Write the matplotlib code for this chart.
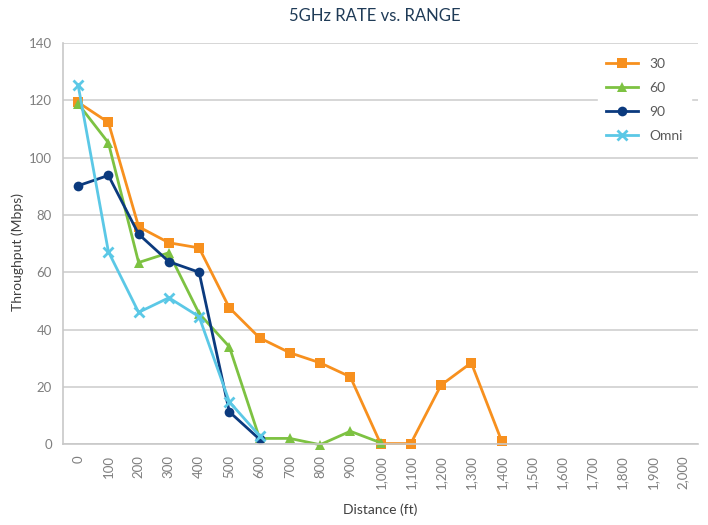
import matplotlib
matplotlib.use("Agg")
import matplotlib.pyplot as plt
import numpy as np

plt.rcParams['font.family'] = ['Lato', 'DejaVu Sans']

distances = [0, 100, 200, 300, 400, 500, 600, 700, 800, 900, 1000,
             1100, 1200, 1300, 1400, 1500, 1600, 1700, 1800, 1900, 2000]
tick_labels = [f"{d:,}" for d in distances]
nan = np.nan
s30 = [119.3, 112.3, 75.9, 70.3, 68.5, 47.6, 37.1, 31.9, 28.4, 23.5, 0.2,
       0.2, 20.6, 28.4, 1.2, nan, nan, nan, nan, nan, nan]
s60 = [118.8, 105.2, 63.4, 66.8, 45.6, 34.0, 2.0, 2.0, -0.2, 4.5, 0.5,
       nan, nan, nan, nan, nan, nan, nan, nan, nan, nan]
s90 = [90.2, 93.8, 73.3, 63.7, 60.0, 11.3, 1.7,
       nan, nan, nan, nan, nan, nan, nan, nan, nan, nan, nan, nan, nan, nan]
omni = [125.3, 67.2, 46.0, 51.1, 44.5, 14.8, 2.9,
        nan, nan, nan, nan, nan, nan, nan, nan, nan, nan, nan, nan, nan, nan]

series = [("30", s30, "#F7901E", "s", 7),
          ("60", s60, "#7DC242", "^", 7.5),
          ("90", s90, "#0B3A7E", "o", 7),
          ("Omni", omni, "#5BC8E6", "x", 7)]

fig = plt.figure(figsize=(7.08, 5.25), dpi=100)
ax = fig.add_axes([0.089, 0.154, 0.897, 0.764])

x = np.arange(len(distances))
for name, vals, col, mk, ms in series:
    kw = dict(markeredgewidth=2) if mk == "x" else dict(markeredgewidth=0)
    ax.plot(x, vals, color=col, marker=mk, markersize=ms, linewidth=2,
            label=name, clip_on=False, **kw)

ax.set_xlim(-0.5, len(distances) - 0.5)
ax.set_ylim(0, 140)
ax.set_yticks(range(0, 141, 20))
ax.set_xticks(x)
ax.set_xticklabels(tick_labels, rotation=90)
ax.tick_params(axis='both', colors='#7f7f7f', labelcolor='#7f7f7f',
               labelsize=9.5, length=0, pad=8)
ax.grid(axis='y', color='#d0d0d0', linewidth=1.2)
ax.set_axisbelow(True)
for sp in ['top', 'right']:
    ax.spines[sp].set_visible(False)
ax.spines['left'].set_color('#c8c8c8')
ax.spines['bottom'].set_color('#c8c8c8')
ax.spines['left'].set_linewidth(1.2)
ax.spines['bottom'].set_linewidth(1.2)

ax.set_xlabel("Distance (ft)", color='#404040', fontsize=10, labelpad=10)
ax.set_ylabel("Throughput (Mbps)", color='#404040', fontsize=10, labelpad=2)
ax.yaxis.set_label_coords(-0.062, 0.48)
fig.suptitle("5GHz RATE vs. RANGE", x=0.53, y=0.985, color='#1F3B57',
             fontsize=12)

leg = ax.legend(loc='upper right', bbox_to_anchor=(1.0, 1.0), frameon=True,
                facecolor='white', edgecolor='white', framealpha=1,
                fontsize=10, labelcolor='#595959', handlelength=2.3,
                borderpad=0.6, labelspacing=0.85)

fig.savefig("out.png", dpi=100)
